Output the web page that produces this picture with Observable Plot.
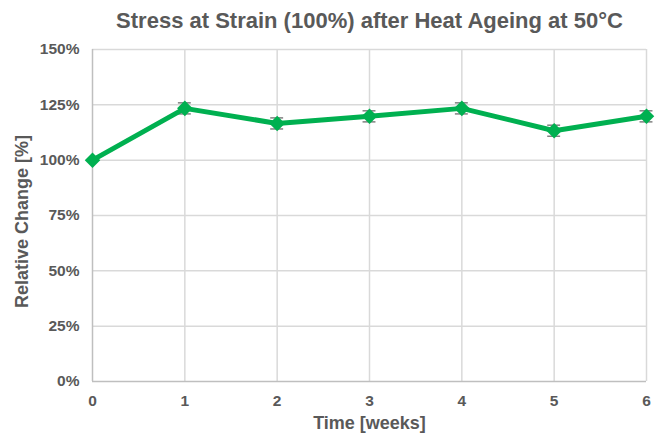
<!DOCTYPE html>
<html><head><meta charset="utf-8">
<script src="https://cdn.jsdelivr.net/npm/d3@7"></script>
<script src="https://cdn.jsdelivr.net/npm/@observablehq/plot@0.6"></script>
<style>body{margin:0;background:#fff;font-family:"Liberation Sans",Arial,sans-serif}</style>
</head><body><div id="chart"></div>
<script>
const title = "Stress at Strain (100%) after Heat Ageing at 50°C";
const weeks = [0, 1, 2, 3, 4, 5, 6];
const values = [100, 123.4, 116.6, 119.8, 123.4, 113.3, 119.8];
const errors = [0, 2.5, 2.5, 2.5, 2.5, 2.5, 2.5];
const yTicks = [0, 25, 50, 75, 100, 125, 150];
const xLabel = "Time [weeks]";
const yLabel = "Relative Change [%]";

const data = weeks.map((w, i) => ({week: w, value: values[i], err: errors[i]}));
const errData = data.filter(d => d.err > 0);
const grey = "#595959";
const capHalf = 0.07;

const chart = Plot.plot({
  width: 661, height: 437,
  marginTop: 49, marginBottom: 56, marginLeft: 92, marginRight: 15,
  style: {fontFamily: "'Liberation Sans', Arial, sans-serif", fontWeight: "bold", fontSize: "15px", color: grey, background: "#fff"},
  x: {type: "linear", domain: [0, 6]},
  y: {type: "linear", domain: [0, 150]},
  marks: [
    Plot.ruleX(weeks.slice(1), {stroke: "#d9d9d9", strokeWidth: 1.5}),
    Plot.ruleY(yTicks.slice(1), {stroke: "#d9d9d9", strokeWidth: 1.5}),
    Plot.ruleX([0], {stroke: "#bfbfbf", strokeWidth: 1.5}),
    Plot.ruleY([0], {stroke: "#bfbfbf", strokeWidth: 1.5}),
    Plot.axisX({ticks: weeks, tickFormat: d => String(d), tickSize: 0, tickPadding: 13, fontSize: 15.5, fill: grey, label: null}),
    Plot.axisY({ticks: yTicks, tickFormat: d => d + "%", tickSize: 0, tickPadding: 13, fontSize: 15.5, fill: grey, label: null}),
    Plot.text([xLabel], {frameAnchor: "bottom", dy: 47, fontSize: 18, fontWeight: "bold", fill: grey}),
    Plot.text([yLabel], {frameAnchor: "left", textAnchor: "middle", dx: -70, dy: 6, rotate: -90, fontSize: 18, fontWeight: "bold", fill: grey}),
    Plot.ruleX(errData, {x: "week", y1: d => d.value - d.err, y2: d => d.value + d.err, stroke: "#808080", strokeWidth: 1.5}),
    Plot.ruleY(errData, {y: d => d.value - d.err, x1: d => d.week - capHalf, x2: d => d.week + capHalf, stroke: "#808080", strokeWidth: 1.5}),
    Plot.ruleY(errData, {y: d => d.value + d.err, x1: d => d.week - capHalf, x2: d => d.week + capHalf, stroke: "#808080", strokeWidth: 1.5}),
    Plot.line(data, {x: "week", y: "value", stroke: "#00b050", strokeWidth: 5}),
    Plot.dot(data, {x: "week", y: "value", symbol: "diamond2", r: 7, fill: "#00b050", stroke: "none"}),
    Plot.text([title], {frameAnchor: "top", lineAnchor: "middle", dy: -29, fontSize: 22, fontWeight: "bold", fill: grey})
  ]
});
document.getElementById("chart").appendChild(chart);
</script></body></html>
